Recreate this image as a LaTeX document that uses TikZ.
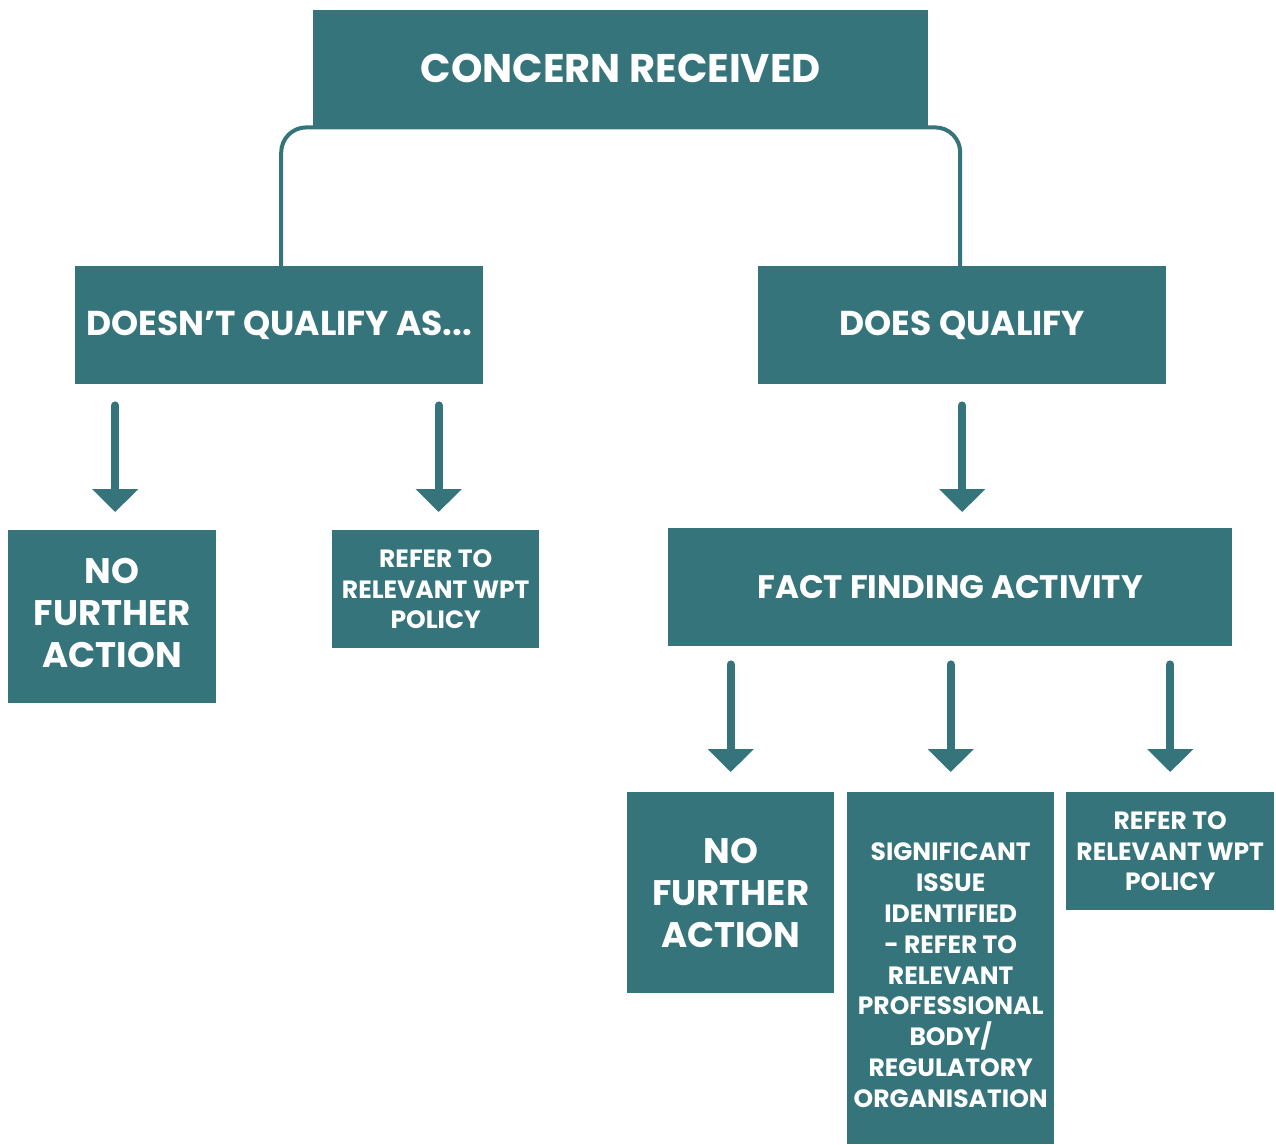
\documentclass[tikz,border=0pt]{standalone}
\usepackage{fontspec}
\setmainfont{Poppins}
\usetikzlibrary{arrows.meta}
\definecolor{teal}{HTML}{36747C}
\begin{document}
\begin{tikzpicture}[x=1pt,y=-1pt,
  box/.style={fill=teal, text=white, font=\bfseries, align=center, inner sep=0pt, anchor=north west},
  title/.style={font=\fontsize{40}{48}\selectfont\bfseries},
  big/.style={font=\fontsize{35.5}{42}\selectfont\bfseries},
  mid/.style={font=\fontsize{34.5}{40}\selectfont\bfseries},
  ffa/.style={font=\fontsize{32.5}{40}\selectfont\bfseries},
  small/.style={font=\fontsize{25}{30.8}\selectfont\bfseries},
  conn/.style={draw=teal, line width=4pt, rounded corners=25pt},
  arr/.style={draw=teal, line width=8pt, line cap=round, -{Triangle[width=45pt,length=23pt]}}
]
\useasboundingbox (0,0) rectangle (1276,1144);
\fill[white] (0,0) rectangle (1276,1144);
\node[box,title, minimum width=615pt, minimum height=117pt] (top) at (313,10) {CONCERN RECEIVED};
\node[box,mid, minimum width=408pt, minimum height=118pt] (dn) at (75,266) {DOESN’T QUALIFY AS...};
\node[box,mid, minimum width=408pt, minimum height=118pt] (dq) at (758,266) {DOES QUALIFY};
\node[box, minimum width=208pt, minimum height=173pt] (nfa1) at (8,530) {};
\node[big, text=white, align=center, inner sep=0pt] (nfa1t) at ([yshift=4pt]nfa1.center) {NO\\FURTHER\\ACTION};
\node[box,small, minimum width=207pt, minimum height=118pt] (ref1) at (332,530) {REFER TO\\RELEVANT WPT\\POLICY};
\node[box,ffa, minimum width=564pt, minimum height=118pt] (ffa) at (668,528) {FACT FINDING ACTIVITY};
\node[box,big, minimum width=207pt, minimum height=201pt] (nfa2) at (627,792) {NO\\FURTHER\\ACTION};
\node[box, minimum width=207pt, minimum height=352pt] (sig) at (847,792) {};
\node[small, text=white, align=center, inner sep=0pt] (sigt) at ([yshift=-7pt]sig.center) {SIGNIFICANT\\ISSUE\\IDENTIFIED\\- REFER TO\\RELEVANT\\PROFESSIONAL\\BODY/\\REGULATORY\\ORGANISATION};
\node[box,small, minimum width=208pt, minimum height=118pt] (ref2) at (1066,792) {REFER TO\\RELEVANT WPT\\POLICY};
\draw[conn] ([xshift=2pt]dn.north) -- ([xshift=2pt]dn.north |- top.south) -- ([xshift=-2pt]dq.north |- top.south) -- ([xshift=-2pt]dq.north);
\draw[arr, shorten <=21pt, shorten >=18pt] ([xshift=3pt]dn.south -| nfa1) -- ([xshift=3pt]nfa1.north);
\draw[arr, shorten <=21pt, shorten >=18pt] ([xshift=3pt]dn.south -| ref1) -- ([xshift=3pt]ref1.north);
\draw[arr, shorten <=21pt, shorten >=16pt] (dq.south) -- (dq.south |- ffa.north);
\draw[arr, shorten <=18pt, shorten >=20pt] (ffa.south -| nfa2) -- (nfa2.north);
\draw[arr, shorten <=18pt, shorten >=20pt] (ffa.south -| sig) -- (sig.north);
\draw[arr, shorten <=18pt, shorten >=20pt] (ffa.south -| ref2) -- (ref2.north);
\end{tikzpicture}
\end{document}
